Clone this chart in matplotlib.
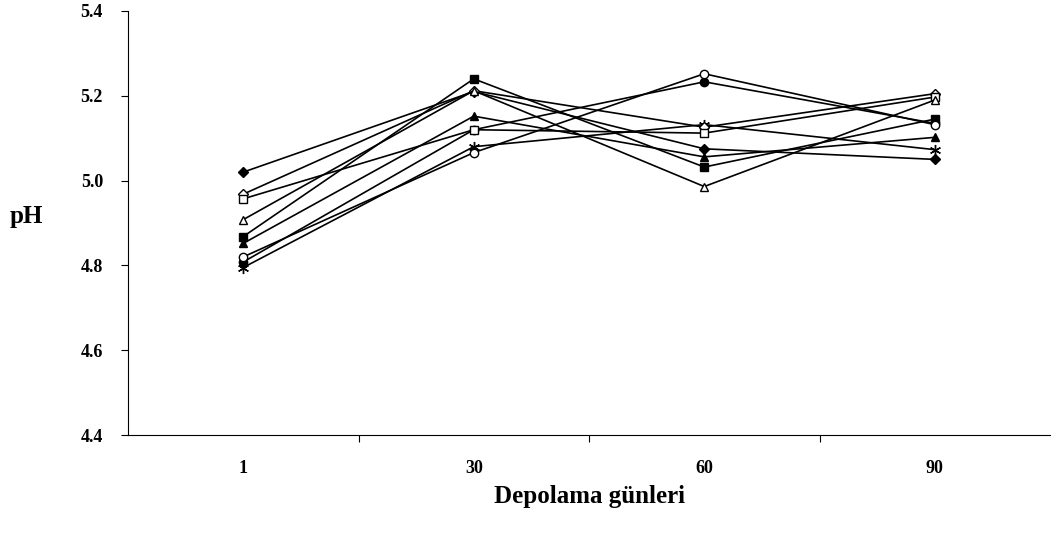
import matplotlib
matplotlib.use("Agg")
import matplotlib.pyplot as plt

days = ["1", "30", "60", "90"]
y_ticks = [4.4, 4.6, 4.8, 5.0, 5.2, 5.4]

s_filled_diamond = [5.02, 5.21, 5.075, 5.05]
s_filled_square = [4.868, 5.24, 5.032, 5.145]
s_filled_triangle = [4.852, 5.152, 5.056, 5.102]
s_asterisk = [4.795, 5.08, 5.132, 5.073]
s_filled_circle = [4.808, 5.12, 5.233, 5.135]
s_open_circle = [4.82, 5.066, 5.252, 5.132]
s_open_diamond = [4.968, 5.212, 5.126, 5.205]
s_open_square = [4.957, 5.12, 5.112, 5.197]
s_open_triangle = [4.908, 5.212, 4.986, 5.19]

series = [
    (s_filled_diamond, "D", "black"),
    (s_filled_square, "s", "black"),
    (s_filled_triangle, "^", "black"),
    (s_asterisk, (6, 2, 0), "black"),
    (s_filled_circle, "o", "black"),
    (s_open_circle, "o", "white"),
    (s_open_diamond, "D", "white"),
    (s_open_square, "s", "white"),
    (s_open_triangle, "^", "white"),
]

plt.rcParams["font.family"] = ["Liberation Serif", "DejaVu Serif"]
plt.rcParams["font.weight"] = "bold"

fig = plt.figure(figsize=(10.51, 5.38), dpi=100)
ax = fig.add_axes([128 / 1051, 1 - 435 / 538, 922 / 1051, 424 / 538])

x = list(range(len(days)))
for vals, mk, fc in series:
    ms = 6 if mk != "D" else 5
    if mk == (6, 2, 0):
        ms = 8
    ax.plot(x, vals, color="black", lw=1.2, marker=mk, markersize=ms,
            markerfacecolor=fc, markeredgecolor="black", markeredgewidth=1.0)

ax.set_xlim(-0.5, 3.5)
ax.set_ylim(4.4, 5.4)
ax.set_yticks(y_ticks)
ax.set_yticklabels([f"{v:.1f}" for v in y_ticks], fontsize=13, fontweight="bold")
ax.set_xticks(x)
ax.set_xticklabels(days, fontsize=13, fontweight="bold")
ax.tick_params(axis="x", which="major", length=0, pad=18)
ax.set_xticks([0.5, 1.5, 2.5], minor=True)
ax.tick_params(axis="x", which="minor", length=5, direction="out", width=0.8)
ax.tick_params(axis="y", which="major", length=5, direction="out", width=0.8, pad=13)

for s in ["top", "right"]:
    ax.spines[s].set_visible(False)
for s in ["left", "bottom"]:
    ax.spines[s].set_linewidth(0.8)

fig.text(10 / 1051, 1 - 217 / 538, "pH", fontsize=18, fontweight="bold",
         ha="left", va="center")
fig.text(589 / 1051, 1 - 497 / 538, "Depolama günleri", fontsize=18,
         fontweight="bold", ha="center", va="center")

fig.savefig("out.png", dpi=100)
